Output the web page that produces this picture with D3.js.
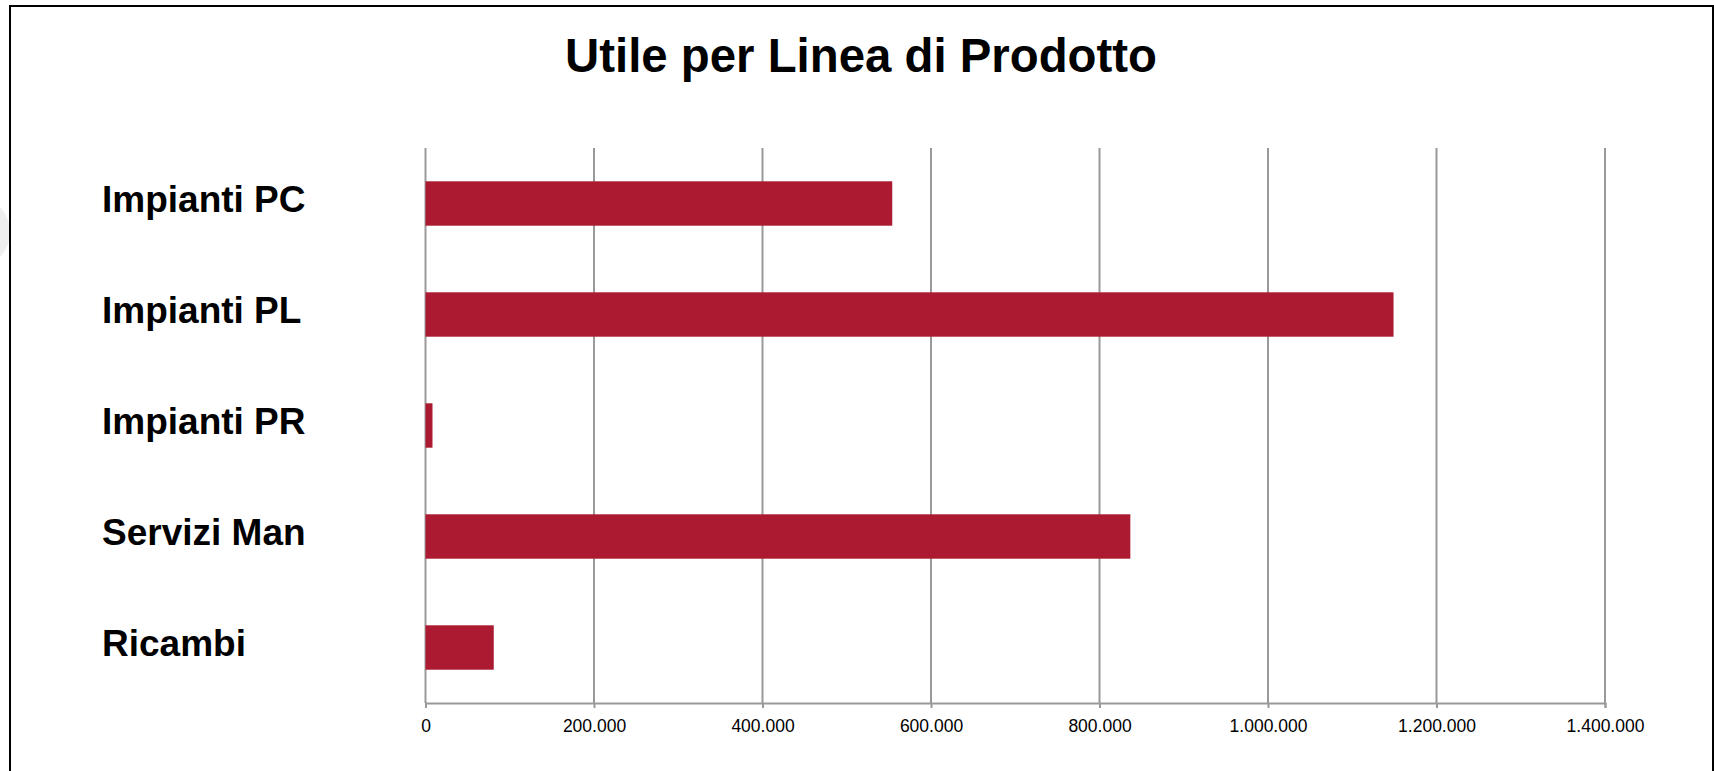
<!DOCTYPE html>
<html>
<head>
<meta charset="utf-8">
<script src="https://cdn.jsdelivr.net/npm/d3@7"></script>
<style>
  body { margin: 0; background: #fff; }
  svg { display: block; font-family: "Liberation Sans", Arial, sans-serif; }
</style>
</head>
<body>
<svg id="chart"></svg>
<script>
// dati
const categories = ["Impianti PC", "Impianti PL", "Impianti PR", "Servizi Man", "Ricambi"];
const values = [554000, 1149000, 8300, 836600, 81000];
const tickValues = [0, 200000, 400000, 600000, 800000, 1000000, 1200000, 1400000];
const title = "Utile per Linea di Prodotto";

const width = 1714, height = 771;
const margin = { top: 148, right: 109, bottom: 68, left: 425.5 };
const barColor = "#ab1a30";
const gridColor = "#999";

const svg = d3.select("#chart").attr("width", width).attr("height", height);

// cerchio grigio chiaro sul bordo sinistro
svg.append("circle").attr("cx", -26).attr("cy", 232).attr("r", 36).attr("fill", "#eeeeee");

// cornice
svg.append("path")
  .attr("d", `M10,${height} V6 H1713 V${height}`)
  .attr("fill", "none").attr("stroke", "#000").attr("stroke-width", 2);

const fmt = d3.formatLocale({ decimal: ",", thousands: ".", grouping: [3], currency: ["", "€"] }).format(",d");

const x = d3.scaleLinear()
  .domain([0, 1400000])
  .range([margin.left, width - margin.right]);

const y = d3.scaleBand()
  .domain(categories)
  .range([margin.top, height - margin.bottom])
  .paddingInner(0.6).paddingOuter(0.3);

// griglia verticale
svg.append("g")
  .selectAll("line")
  .data(tickValues)
  .join("line")
  .attr("x1", d => x(d)).attr("x2", d => x(d))
  .attr("y1", margin.top).attr("y2", height - margin.bottom)
  .attr("stroke", gridColor).attr("stroke-width", 2);

// barre
svg.append("g")
  .selectAll("rect")
  .data(categories)
  .join("rect")
  .attr("x", x(0))
  .attr("y", d => y(d))
  .attr("width", (d, i) => x(values[i]) - x(0))
  .attr("height", y.bandwidth())
  .attr("fill", barColor);

// asse x
const axisX = svg.append("g")
  .attr("transform", `translate(0,${height - margin.bottom})`)
  .call(d3.axisBottom(x).tickValues(tickValues).tickFormat(fmt).tickSize(5).tickPadding(12));
axisX.select(".domain").attr("stroke", gridColor).attr("stroke-width", 2);
axisX.selectAll(".tick line").attr("stroke", gridColor).attr("stroke-width", 2);
axisX.selectAll(".tick text")
  .attr("fill", "#000")
  .style("font-family", "'Liberation Sans', Arial, sans-serif")
  .style("font-size", "17.5px");

// etichette categorie
svg.append("g")
  .selectAll("text")
  .data(categories)
  .join("text")
  .attr("x", 102)
  .attr("y", d => y(d) + y.bandwidth() / 2 + 8.5)
  .attr("font-size", 37)
  .attr("font-weight", "bold")
  .attr("fill", "#000")
  .text(d => d);

// titolo
svg.append("text")
  .attr("x", 861)
  .attr("y", 72)
  .attr("text-anchor", "middle")
  .attr("font-size", 48)
  .attr("font-weight", "bold")
  .attr("textLength", 592)
  .attr("lengthAdjust", "spacingAndGlyphs")
  .attr("fill", "#000")
  .text(title);
</script>
</body>
</html>
